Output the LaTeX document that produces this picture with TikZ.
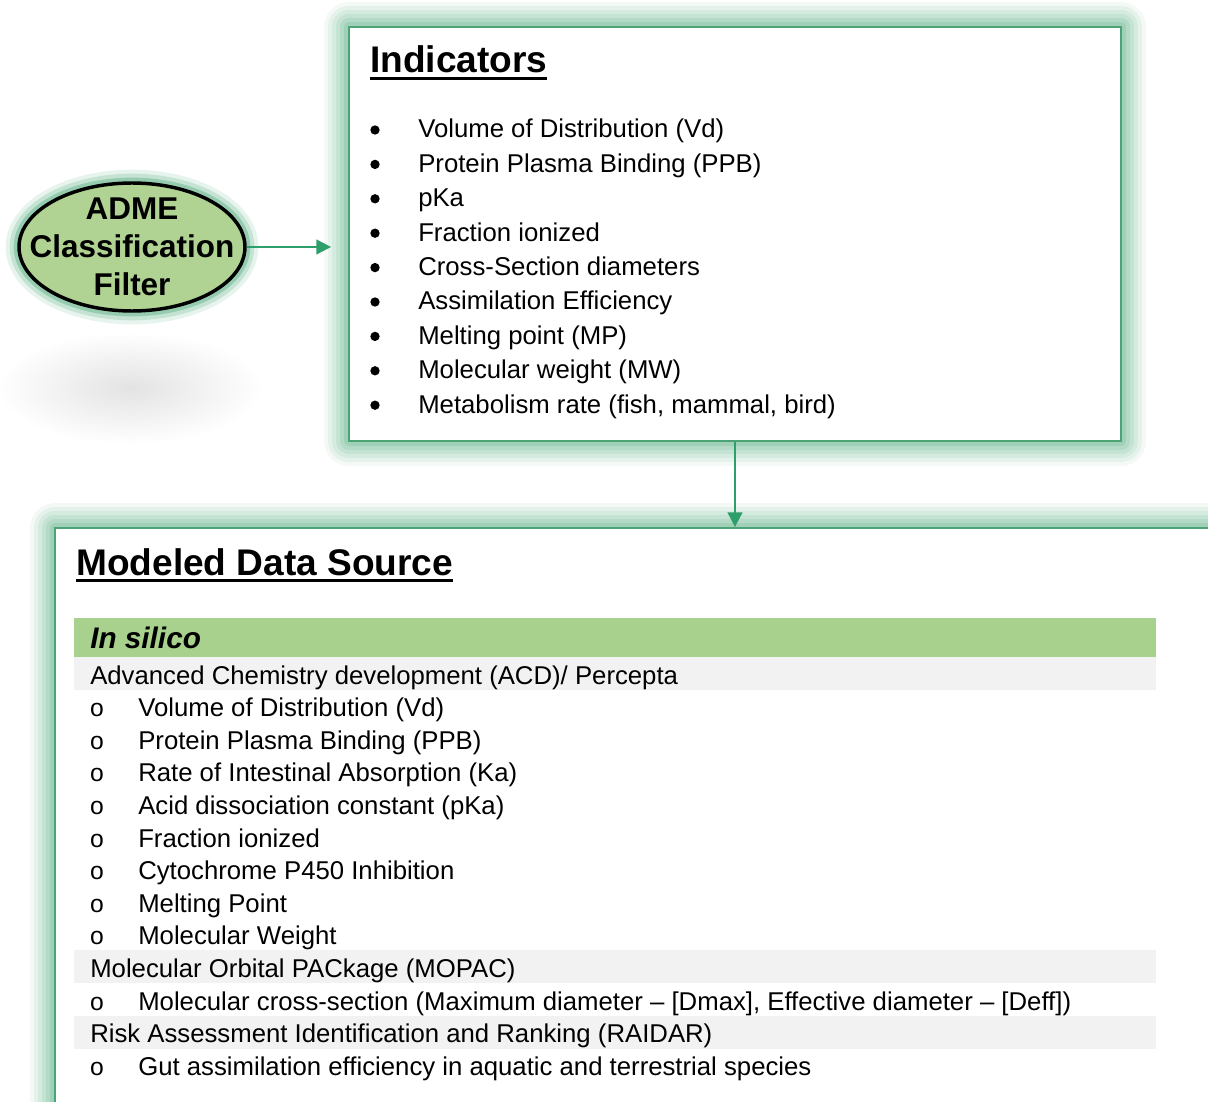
\documentclass[tikz,border=0pt]{standalone}
\usepackage{fontspec}
\setmainfont{Liberation Sans}
\usetikzlibrary{arrows.meta, positioning, shapes.geometric}

\definecolor{glowgreen}{RGB}{60,160,108}
\definecolor{edgegreen}{RGB}{76,163,118}
\definecolor{arrowgreen}{RGB}{46,158,106}
\definecolor{admefill}{RGB}{176,210,146}
\definecolor{silicofill}{RGB}{169,209,142}
\definecolor{rowgray}{RGB}{242,242,242}

\newsavebox{\ulbox}
\newcommand{\thickul}[1]{\sbox{\ulbox}{#1}\rlap{\usebox{\ulbox}}\rule[-5.2pt]{\wd\ulbox}{2.3pt}}

\begin{document}
\begin{tikzpicture}[x=0.75pt, y=-0.75pt, >={Triangle[length=11pt, width=11pt]},
    boxglow/.style={
      preaction={draw=glowgreen, draw opacity=0.06, line width=38pt, line join=round},
      preaction={draw=glowgreen, draw opacity=0.08, line width=32pt, line join=round},
      preaction={draw=glowgreen, draw opacity=0.09, line width=26pt, line join=round},
      preaction={draw=glowgreen, draw opacity=0.11, line width=20pt, line join=round},
      preaction={draw=glowgreen, draw opacity=0.13, line width=14pt, line join=round},
      preaction={draw=glowgreen, draw opacity=0.16, line width=8pt, line join=round}},
    infobox/.style={boxglow, rectangle, draw=edgegreen, line width=1.4pt, fill=white, inner sep=0pt},
    admebub/.style={ellipse, draw=black, line width=2.6pt, fill=admefill, inner sep=0pt,
      preaction={draw=glowgreen, draw opacity=0.12, line width=20pt},
      preaction={draw=glowgreen, draw opacity=0.20, line width=14pt},
      preaction={draw=glowgreen, draw opacity=0.35, line width=8pt}},
    admetext/.style={align=center, font=\fontsize{23.6pt}{28.5pt}\selectfont\bfseries},
    heading/.style={anchor=base west, inner sep=0pt, font=\fontsize{27.8pt}{32pt}\selectfont\bfseries},
    silico/.style={anchor=base west, inner sep=0pt, font=\fontsize{22.3pt}{26pt}\selectfont\bfseries\itshape},
    item/.style={anchor=base west, inner sep=0pt, font=\fontsize{19.3pt}{23pt}\selectfont},
    dot/.style={circle, fill=black, inner sep=0pt, minimum size=7pt},
    ring/.style={anchor=base, inner sep=0pt, font=\fontsize{18.5pt}{22pt}\selectfont},
    flow/.style={->, draw=arrowgreen, line width=1.5pt}]
  \useasboundingbox (0,0) rectangle (1208,1102);

  \shade[inner color=black!11, outer color=white] (130,388) ellipse [x radius=100pt, y radius=42pt];

  \node[admebub, minimum width=169.5pt, minimum height=96pt,
        label={[admetext]center:{ADME\\Classification\\Filter}}] (adme) at (132,247) {};
  \node[infobox, minimum width=579pt, minimum height=310.5pt] (ind) at (735,234) {};
  \node[infobox, minimum width=900pt, minimum height=470pt] (mds) at (655,841.33) {};

  \draw[flow, shorten >=12.75pt] (adme) -- (ind.west |- adme.center);
  \draw[flow] (ind.south) -- (ind.south |- mds.north);

  \node[heading] (ind-title) at (370,73) {\thickul{Indicators}};
  \foreach \txt [count=\i] in {Volume of Distribution (Vd), Protein Plasma Binding (PPB), pKa,
      Fraction ionized, Cross-Section diameters, Assimilation Efficiency, Melting point (MP),
      Molecular weight (MW), {Metabolism rate (fish, mammal, bird)}}
  {
    \node[dot] (ind-b\i) at (375, {130+34.4*(\i-1)}) {};
    \node[item] (ind-\i) at (418, {138+34.4*(\i-1)}) {\txt};
  }

  \node[heading] (mds-title) at (76,575) {\thickul{Modeled Data Source}};
  \fill[silicofill] (74,618) rectangle (1156,657);
  \node[silico] (insilico) at (90,648) {In silico};

  \foreach \r/\txt [evaluate=\r as \y using 684+32.6*(\r-1)] in
      {1/{Advanced Chemistry development (ACD)/ Percepta},
       10/{Molecular Orbital PACkage (MOPAC)},
       12/{Risk Assessment Identification and Ranking (RAIDAR)}}
  {
    \fill[rowgray] (74,{\y-27}) rectangle (1156,{\y+6});
    \node[item] (src-\r) at (90,\y) {\txt};
  }
  \foreach \r/\txt [evaluate=\r as \y using 684+32.6*(\r-1)] in
      {2/{Volume of Distribution (Vd)}, 3/{Protein Plasma Binding (PPB)},
       4/{Rate of Intestinal Absorption (Ka)}, 5/{Acid dissociation constant (pKa)},
       6/{Fraction ionized}, 7/{Cytochrome P450 Inhibition}, 8/{Melting Point},
       9/{Molecular Weight},
       11/{Molecular cross-section (Maximum diameter – [Dmax], Effective diameter – [Deff])},
       13/{Gut assimilation efficiency in aquatic and terrestrial species}}
  {
    \node[ring] (mds-o\r) at (97,\y) {o};
    \node[item] (mds-\r) at (138,\y) {\txt};
  }
\end{tikzpicture}
\end{document}
